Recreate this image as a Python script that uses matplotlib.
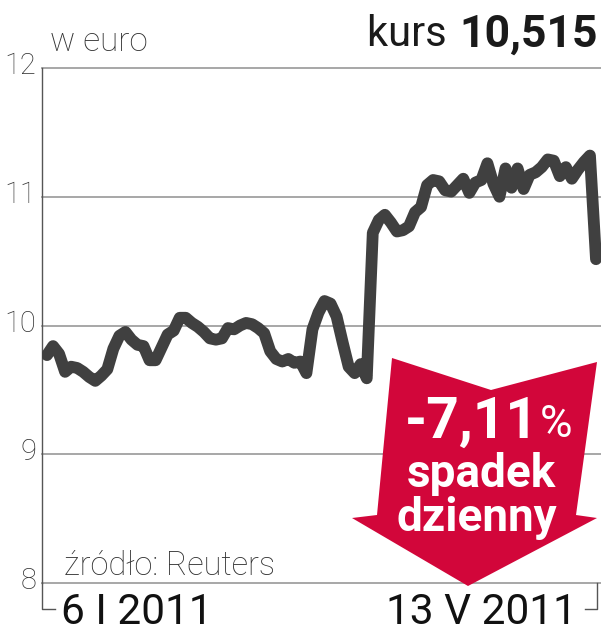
import matplotlib
matplotlib.use("Agg")
import matplotlib.pyplot as plt
from matplotlib.patches import Polygon
from matplotlib.lines import Line2D

# ---- data (daily close, EUR) ----
prices = [
    9.77, 9.84, 9.78, 9.64, 9.68, 9.67, 9.64, 9.60, 9.57, 9.61,
    9.66, 9.82, 9.92, 9.95, 9.89, 9.85, 9.84, 9.73, 9.73, 9.83,
    9.93, 9.96, 10.06, 10.06, 10.02, 9.99, 9.95, 9.90, 9.89, 9.90,
    9.98, 9.97, 10.00, 10.02, 10.01, 9.98, 9.94, 9.80, 9.74, 9.72,
    9.74, 9.71, 9.72, 9.63, 9.97, 10.10, 10.19, 10.17, 10.07, 9.87,
    9.68, 9.63, 9.70, 9.59, 10.72, 10.82, 10.86, 10.80, 10.73, 10.74,
    10.77, 10.88, 10.92, 11.09, 11.13, 11.12, 11.05, 11.04, 11.09, 11.14,
    11.03, 11.11, 11.13, 11.26, 11.10, 11.00, 11.22, 11.07, 11.22, 11.06,
    11.17, 11.19, 11.23, 11.29, 11.28, 11.16, 11.23, 11.14, 11.21, 11.27,
    11.32, 10.515,
]
yticks = [8, 9, 10, 11, 12]
ytick_labels = ["8", "9", "10", "11", "12"]
date_labels = ["6 I 2011", "13 V 2011"]
unit_label = "w euro"
last_label = "kurs "
last_value = "10,515"
change_text = "-7,11"
change_sub = ["spadek", "dzienny"]
source = "źródło: Reuters"

W, H = 601, 640
fig = plt.figure(figsize=(W / 100, H / 100), dpi=100)
fig.patch.set_facecolor("white")

def fx(px):
    return px / W

def fy(py):
    return 1 - py / H

ax_left, ax_right, ax_top, ax_bot = 42, 601, 68, 583
ax = fig.add_axes([fx(ax_left), fy(ax_bot), (ax_right - ax_left) / W, (ax_bot - ax_top) / H])
n = len(prices)
step = (596 - 47) / (n - 1)
ax.set_xlim(-(47 - ax_left) / step, (n - 1) + (ax_right - 596) / step)
ax.set_ylim(8, 12)
for s in ["top", "right", "bottom"]:
    ax.spines[s].set_visible(False)
ax.spines["left"].set_color("#555555")
ax.spines["left"].set_linewidth(1.0)
ax.set_xticks([])
ax.set_yticks([])

for v in yticks:
    ax.axhline(v, color="#a0a0a0", lw=1.3, zorder=1, clip_on=False)

ax.plot(range(n), prices, color="#404040", lw=8.5, solid_joinstyle="round",
        solid_capstyle="round", zorder=3)

font_light = dict(family="Roboto", fontweight="light")
for v, lab in zip(yticks, ytick_labels):
    fig.text(fx(36), fy(ax_bot - (v - 8) * (ax_bot - ax_top) / 4 - 2), lab,
             ha="right", va="center", fontsize=21, color="#333333", **font_light)

fig.text(fx(50), fy(42), unit_label, ha="left", va="center", fontsize=24,
         color="#333333", **font_light)
t1 = fig.text(fx(598), fy(35), last_value, ha="right", va="center", fontsize=32,
              color="#1a1a1a", family="Roboto", fontweight="bold")
fig.canvas.draw()
bb = t1.get_window_extent()
fig.text(bb.x0 / W - 0.004, fy(35), last_label, ha="right", va="center", fontsize=30,
         color="#1a1a1a", family="Roboto", fontweight="normal")

fig.text(fx(64), fy(566), source, ha="left", va="center", fontsize=23.5,
         color="#333333", **font_light)

# bracket below the axis
lc = "#555555"
fig.add_artist(Line2D([fx(42), fx(42), fx(55)], [fy(583), fy(609), fy(609)], color=lc, lw=1.0))
fig.add_artist(Line2D([fx(585), fx(597), fx(597)], [fy(609), fy(609), fy(583)], color=lc, lw=1.0))
fig.text(fx(61), fy(613), date_labels[0], ha="left", va="center", fontsize=30.5,
         color="#111111", family="Roboto", fontweight="normal")
fig.text(fx(577), fy(613), date_labels[1], ha="right", va="center", fontsize=30.5,
         color="#111111", family="Roboto", fontweight="normal")

# red arrow badge
arrow_px = [(392, 358), (491, 390), (597, 362), (576, 515), (597, 518),
            (468, 586), (352, 518), (377, 515)]
poly = Polygon([(fx(x), fy(y)) for x, y in arrow_px], closed=True,
               transform=fig.transFigure, facecolor="#d2063a", edgecolor="none", zorder=5)
fig.add_artist(poly)

tc = fig.text(fx(405), fy(422), change_text, ha="left", va="center", fontsize=41,
              color="white", family="Roboto", fontweight="bold", zorder=6)
fig.canvas.draw()
bb = tc.get_window_extent()
fig.text(bb.x1 / W + 0.002, fy(425), "%", ha="left", va="center", fontsize=32,
         color="white", family="Roboto", fontweight="normal", zorder=6)
fig.text(fx(481), fy(474), change_sub[0], ha="center", va="center", fontsize=33,
         color="white", family="Roboto", fontweight="bold", zorder=6)
fig.text(fx(477), fy(518), change_sub[1], ha="center", va="center", fontsize=33,
         color="white", family="Roboto", fontweight="bold", zorder=6)

fig.savefig("out.png", dpi=100, facecolor="white")
